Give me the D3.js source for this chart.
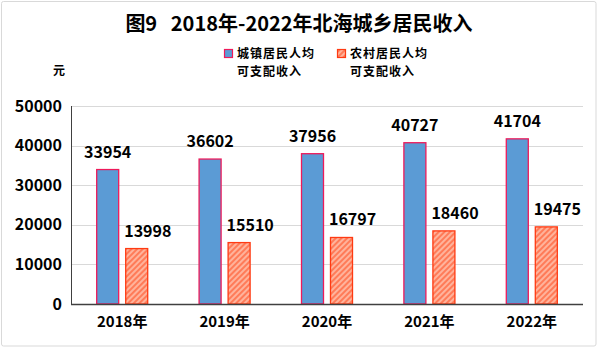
<!DOCTYPE html>
<html>
<head>
<meta charset="utf-8">
<script src="https://cdn.jsdelivr.net/npm/d3@7"></script>
<style>
  html, body { margin: 0; padding: 0; background: #fff; }
  svg { display: block; }
  text { font-family: "Noto Sans CJK SC", "Microsoft YaHei", sans-serif; font-weight: bold; fill: #000; }
</style>
</head>
<body>
<svg id="chart" width="598" height="348"></svg>
<script>
// Per-capita disposable income of Beihai residents, 2018–2022 (元)
const years = ["2018年", "2019年", "2020年", "2021年", "2022年"];
const urbanIncome = [33954, 36602, 37956, 40727, 41704];
const ruralIncome = [13998, 15510, 16797, 18460, 19475];
const yTicks = [0, 10000, 20000, 30000, 40000, 50000];
const seriesNames = ["城镇居民人均|可支配收入", "农村居民人均|可支配收入"];
const titleText = "图9\u00a0\u00a0\u00a02018年-2022年北海城乡居民收入";
const unitText = "元";

const svg = d3.select("#chart");
const W = 598, H = 348;
const plot = { left: 71, right: 583, top: 106, bottom: 304 };

// outer frame
svg.append("rect")
  .attr("x", 1.5).attr("y", 1.5)
  .attr("width", W - 3.5).attr("height", H - 3.5)
  .attr("rx", 2)
  .attr("fill", "#fff").attr("stroke", "#d9d9d9").attr("stroke-width", 1);

// hatched fill for the rural series
const defs = svg.append("defs");
const pat = defs.append("pattern")
  .attr("id", "hatch")
  .attr("patternUnits", "userSpaceOnUse")
  .attr("width", 4).attr("height", 4)
  .attr("patternTransform", "rotate(45)");
pat.append("rect").attr("width", 4).attr("height", 4).attr("fill", "#ffb39c");
pat.append("rect").attr("width", 2).attr("height", 4).attr("fill", "#ff7b58");

const colors = {
  urbanFill: "#5b9bd5", urbanStroke: "#ee1a5a",
  ruralFill: "url(#hatch)", ruralStroke: "#ff3a12"
};

const y = d3.scaleLinear().domain([0, 50000]).range([plot.bottom, plot.top]);
const x0 = d3.scaleBand().domain(years).range([plot.left, plot.right]).paddingInner(0.492).paddingOuter(0.246);
const x1 = d3.scaleBand().domain(["urban", "rural"]).range([0, x0.bandwidth()]).paddingInner(6 / 29).paddingOuter(0);

// gridlines
svg.append("g").selectAll("line")
  .data(yTicks.filter(d => d > 0))
  .join("line")
  .attr("x1", plot.left).attr("x2", plot.right)
  .attr("y1", d => Math.round(y(d)) + 0.5).attr("y2", d => Math.round(y(d)) + 0.5)
  .attr("stroke", "#d9d9d9").attr("stroke-width", 1);

// y axis labels
const yAxis = d3.axisLeft(y).tickValues(yTicks).tickSize(0).tickPadding(9).tickFormat(d3.format("d"));
const gy = svg.append("g").attr("transform", `translate(${plot.left},0)`).call(yAxis);
gy.select(".domain").remove();
gy.selectAll("text").attr("font-size", 16).attr("font-family", "\"Noto Sans CJK SC\", sans-serif").attr("font-weight", "bold").attr("fill", "#000");

// bars
const groups = svg.append("g").selectAll("g")
  .data(years.map((yr, i) => ({ yr, urban: urbanIncome[i], rural: ruralIncome[i] })))
  .join("g")
  .attr("transform", d => `translate(${x0(d.yr)},0)`);

groups.append("rect")
  .attr("x", x1("urban") + 0.5)
  .attr("y", d => y(d.urban))
  .attr("width", x1.bandwidth() - 1)
  .attr("height", d => y(0) - y(d.urban))
  .attr("fill", colors.urbanFill).attr("stroke", colors.urbanStroke).attr("stroke-width", 1.3);

groups.append("rect")
  .attr("x", x1("rural") + 0.5)
  .attr("y", d => y(d.rural))
  .attr("width", x1.bandwidth() - 1)
  .attr("height", d => y(0) - y(d.rural))
  .attr("fill", colors.ruralFill).attr("stroke", colors.ruralStroke).attr("stroke-width", 1.3);

// value labels
groups.append("text")
  .attr("x", x1("urban") + x1.bandwidth() / 2)
  .attr("y", d => y(d.urban) - 12)
  .attr("text-anchor", "middle")
  .attr("font-size", 16)
  .text(d => d.urban);

groups.append("text")
  .attr("x", x1("rural") - 1)
  .attr("y", d => y(d.rural) - 12)
  .attr("text-anchor", "start")
  .attr("font-size", 16)
  .text(d => d.rural);

// axis lines
svg.append("line")
  .attr("x1", plot.left + 0.5).attr("x2", plot.left + 0.5)
  .attr("y1", plot.top).attr("y2", plot.bottom)
  .attr("stroke", "#404040").attr("stroke-width", 1);
svg.append("line")
  .attr("x1", plot.left).attr("x2", plot.right)
  .attr("y1", plot.bottom + 0.5).attr("y2", plot.bottom + 0.5)
  .attr("stroke", "#404040").attr("stroke-width", 1.5);

// x axis labels
const xAxis = d3.axisBottom(x0).tickSize(0).tickPadding(12);
const gx = svg.append("g").attr("transform", `translate(0,${plot.bottom})`).call(xAxis);
gx.select(".domain").remove();
gx.selectAll("text").attr("font-size", 15).attr("font-family", "\"Noto Sans CJK SC\", sans-serif").attr("font-weight", "bold").attr("fill", "#000");

// title
svg.append("text")
  .attr("x", W / 2).attr("y", 31)
  .attr("text-anchor", "middle")
  .attr("font-size", 20)
  .text(titleText);

// unit
svg.append("text")
  .attr("x", 59).attr("y", 75)
  .attr("text-anchor", "middle")
  .attr("font-size", 12)
  .text(unitText);

// legend: swatch plus a two-line label per series
const legendItems = [
  { name: seriesNames[0], x: 224, fill: colors.urbanFill, stroke: colors.urbanStroke },
  { name: seriesNames[1], x: 337, fill: colors.ruralFill, stroke: colors.ruralStroke }
];
const lg = svg.append("g").selectAll("g").data(legendItems).join("g")
  .attr("transform", d => `translate(${d.x},0)`);
lg.append("rect")
  .attr("x", 0.5).attr("y", 49.5).attr("width", 8).attr("height", 8)
  .attr("fill", d => d.fill).attr("stroke", d => d.stroke).attr("stroke-width", 1.2);
lg.selectAll("text.line")
  .data(d => d.name.split("|"))
  .join("text")
  .attr("class", "line")
  .attr("x", 13)
  .attr("y", (d, i) => 58 + i * 17.5)
  .attr("font-size", 12)
  .attr("letter-spacing", 1)
  .text(d => d);
</script>
</body>
</html>
